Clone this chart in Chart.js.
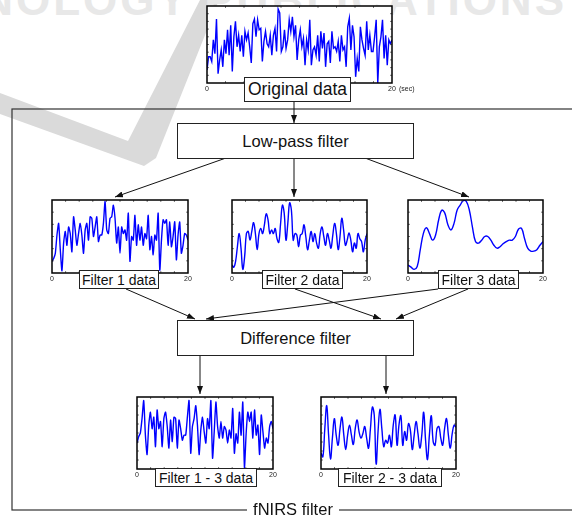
<!DOCTYPE html>
<html>
<head>
<meta charset="utf-8">
<script src="https://cdn.jsdelivr.net/npm/chart.js@4.4.1/dist/chart.umd.min.js"></script>
<style>
  body { margin: 0; background: #fff; font-family: "Liberation Sans", Arial, sans-serif; }
  #page { position: relative; width: 572px; height: 515px; overflow: hidden; }
  .box { position: absolute; box-sizing: border-box; border: 1px solid #222; background: #fff;
         display: flex; align-items: center; justify-content: center; white-space: nowrap; color: #111; }
  canvas { position: absolute; }
  svg { position: absolute; left: 0; top: 0; }
</style>
</head>
<body>
<div id="page">
  <svg width="572" height="515">
    <defs>
      <marker id="ah" viewBox="0 0 8 6" refX="8" refY="3" markerWidth="8" markerHeight="6"
              markerUnits="userSpaceOnUse" orient="auto">
        <path d="M0,0 L8,3 L0,6 z" fill="#111"/>
      </marker>
    </defs>
    <!-- faint watermark -->
    <polygon points="0,93 128,141 200,0 219,0 156,158 144,166 0,114" fill="#dadada"/>
  </svg>
  <div style="position:absolute;right:5px;top:-22px;font:bold 44px 'Liberation Sans',Arial,sans-serif;letter-spacing:3px;color:#e8e8e8;white-space:nowrap;line-height:44px;">SCIENCE AND TECHNOLOGY PUBLICATIONS</div>

  <svg width="572" height="515">
    <rect x="12" y="109" width="600" height="401" fill="none" stroke="#333" stroke-width="1.2"/>
    <g stroke="#111" stroke-width="1" marker-end="url(#ah)">
      <line x1="294" y1="102" x2="294" y2="123"/>
      <line x1="226" y1="158" x2="115" y2="197"/>
      <line x1="294" y1="158" x2="294" y2="197"/>
      <line x1="365" y1="158" x2="469" y2="197"/>
      <line x1="126" y1="289" x2="195" y2="319"/>
      <line x1="295" y1="289" x2="381" y2="319"/>
      <line x1="438" y1="289" x2="206" y2="319"/>
      <line x1="468" y1="289" x2="396" y2="319"/>
      <line x1="200" y1="356" x2="200" y2="394"/>
      <line x1="386" y1="356" x2="386" y2="394"/>
    </g>
  </svg>

  <canvas id="cOrig"></canvas>
  <canvas id="cF1"></canvas>
  <canvas id="cF2"></canvas>
  <canvas id="cF3"></canvas>
  <canvas id="cF13"></canvas>
  <canvas id="cF23"></canvas>

  <div style="position:absolute;left:399px;top:85px;font-size:7px;color:#222;">(sec)</div>

  <div class="box" style="left:244px;top:77px;width:107px;height:25px;font-size:17.5px;">Original data</div>
  <div class="box" style="left:177px;top:123px;width:237px;height:36px;font-size:16.5px;">Low-pass filter</div>
  <div class="box" style="left:177px;top:320px;width:237px;height:36px;font-size:16.5px;">Difference filter</div>
  <div class="box" style="left:79px;top:270px;width:80px;height:19px;font-size:14px;">Filter 1 data</div>
  <div class="box" style="left:262px;top:270px;width:81px;height:19px;font-size:14px;">Filter 2 data</div>
  <div class="box" style="left:438px;top:270px;width:81px;height:19px;font-size:14px;">Filter 3 data</div>
  <div class="box" style="left:155px;top:468px;width:102px;height:19px;font-size:14px;">Filter 1 - 3 data</div>
  <div class="box" style="left:338px;top:468px;width:104px;height:19px;font-size:14px;">Filter 2 - 3 data</div>
  <div style="position:absolute;left:247px;top:500px;width:92px;text-align:center;background:#fff;font-size:16.5px;line-height:19px;color:#111;">fNIRS filter</div>
</div>

<script>
// values, 0 = bottom of plot, 100 = top, spread over 0..20 sec
const originalData = [17,34,34,28,56,38,83,12,30,43,21,56,38,69,36,75,15,60,80,47,62,41,62,34,67,56,65,47,26,77,83,60,82,69,71,28,54,67,51,47,62,36,62,71,41,96,91,41,47,69,45,56,82,67,86,60,75,30,56,69,47,58,23,56,43,82,23,43,47,36,62,28,67,45,65,21,51,54,26,67,45,47,41,54,28,62,43,47,21,73,84,43,75,60,8,32,15,73,56,45,36,80,43,62,41,41,60,82,0,47,60,82,32,62,23,56,51,56];
const filter1Data = [16,20,27,52,68,32,3,41,57,38,63,54,29,77,59,38,54,68,52,27,59,68,45,77,75,50,63,77,43,52,52,68,98,59,54,75,77,93,75,41,63,27,63,54,59,45,82,16,50,45,79,38,66,45,63,38,54,47,79,32,50,25,52,45,82,4,45,73,68,73,38,70,36,50,70,18,52,70,27,38,54,52,45];
const filter2Data = [11,8,16,36,54,34,5,22,54,57,45,57,69,54,32,54,61,54,66,81,73,54,59,54,61,47,42,68,93,82,45,68,96,86,45,54,52,36,52,54,66,50,32,45,57,43,54,41,34,54,63,50,38,54,45,34,52,68,54,32,50,75,59,38,45,55,45,29,41,34,54,47,43,29,45,54];
const filter3Data = [11,8,5,9,32,54,62,54,45,52,73,86,82,66,59,68,86,93,99,98,86,63,43,41,45,50,50,45,38,34,36,40,43,45,45,50,60,61,47,34,30,30,32,38,43];
const filter13Data = [36,45,50,70,95,47,20,61,79,56,72,31,82,56,66,31,70,79,59,29,68,38,72,70,29,68,56,40,47,47,72,95,22,59,70,88,61,20,54,72,52,36,70,56,95,15,52,93,59,43,66,43,59,54,36,54,43,84,22,49,36,79,47,93,2,49,79,66,79,43,82,47,61,20,75,52,29,43,36,59,66,56];
const filter23Data = [22,17,56,88,47,14,43,70,47,33,56,72,47,27,47,61,47,34,56,68,52,43,49,59,43,29,56,86,75,7,52,83,56,31,40,36,47,31,61,75,33,61,74,33,52,40,63,54,27,47,66,49,29,47,79,40,13,47,74,38,33,56,59,43,33,56,70,47,29,49,61,58];
const timeRange = [0, 20];   // x axis, seconds
const tickStep = 20;         // only "0" and "20" are labelled

// white plot area, little inner ticks (matlab look) and black frame
const framePlugin = {
  id: 'frame',
  beforeDraw(chart) {
    const { ctx, chartArea: a } = chart;
    ctx.save();
    ctx.fillStyle = '#fff';
    ctx.fillRect(a.left, a.top, a.width, a.height);
    ctx.restore();
  },
  afterDraw(chart, args, opts) {
    const { ctx, chartArea: a, scales: { x, y } } = chart;
    ctx.save();
    ctx.strokeStyle = '#555';
    ctx.lineWidth = 0.8;
    ctx.beginPath();
    for (let v = 2; v < 20; v += 2) {
      const px = x.getPixelForValue(v);
      ctx.moveTo(px, a.bottom); ctx.lineTo(px, a.bottom - 2);
      ctx.moveTo(px, a.top); ctx.lineTo(px, a.top + 2);
    }
    for (let i = 1; i < opts.yTicks; i++) {
      const py = y.getPixelForValue(100 * i / opts.yTicks);
      ctx.moveTo(a.left, py); ctx.lineTo(a.left + 2, py);
      ctx.moveTo(a.right, py); ctx.lineTo(a.right - 2, py);
    }
    ctx.stroke();
    ctx.strokeStyle = '#000';
    ctx.lineWidth = 1.5;
    ctx.strokeRect(a.left, a.top, a.width, a.height);
    ctx.restore();
  }
};

const padL = 10, padR = 12, padT = 2, axisH = 12;

function makeChart(id, values, left, top, w, h, tension, yTicks) {
  const cv = document.getElementById(id);
  cv.width = w + padL + padR;
  cv.height = h + padT + axisH;
  cv.style.left = (left - padL) + 'px';
  cv.style.top = (top - padT) + 'px';
  cv.style.width = cv.width + 'px';
  cv.style.height = cv.height + 'px';
  const n = values.length;
  return new Chart(cv, {
    type: 'line',
    data: {
      datasets: [{
        data: values.map((v, i) => ({ x: timeRange[0] + i * (timeRange[1] - timeRange[0]) / (n - 1), y: v })),
        borderColor: '#0000ff',
        borderWidth: 1.4,
        pointRadius: 0,
        tension: tension,
        fill: false,
      }],
    },
    options: {
      responsive: false,
      animation: false,
      events: [],
      layout: { padding: { left: padL, right: padR, top: padT, bottom: 0 } },
      plugins: { legend: { display: false }, tooltip: { enabled: false }, frame: { yTicks: yTicks } },
      scales: {
        x: {
          type: 'linear',
          min: timeRange[0],
          max: timeRange[1],
          grid: { display: false, drawTicks: false },
          border: { display: false },
          ticks: { stepSize: tickStep, font: { size: 7, family: 'Liberation Sans' }, color: '#222', padding: 2, maxRotation: 0, autoSkip: false },
          afterFit: (s) => { s.height = axisH; },
        },
        y: { display: false, min: 0, max: 100 },
      },
    },
    plugins: [framePlugin],
  });
}

makeChart('cOrig', originalData, 207, 6, 185, 77, 0, 10);
makeChart('cF1', filter1Data, 52, 200, 136, 73, 0.2, 6);
makeChart('cF2', filter2Data, 232, 200, 135, 73, 0.4, 6);
makeChart('cF3', filter3Data, 408, 200, 135, 73, 0.4, 6);
makeChart('cF13', filter13Data, 137, 397, 136, 72, 0.2, 8);
makeChart('cF23', filter23Data, 321, 397, 135, 72, 0.4, 8);
</script>
</body>
</html>
